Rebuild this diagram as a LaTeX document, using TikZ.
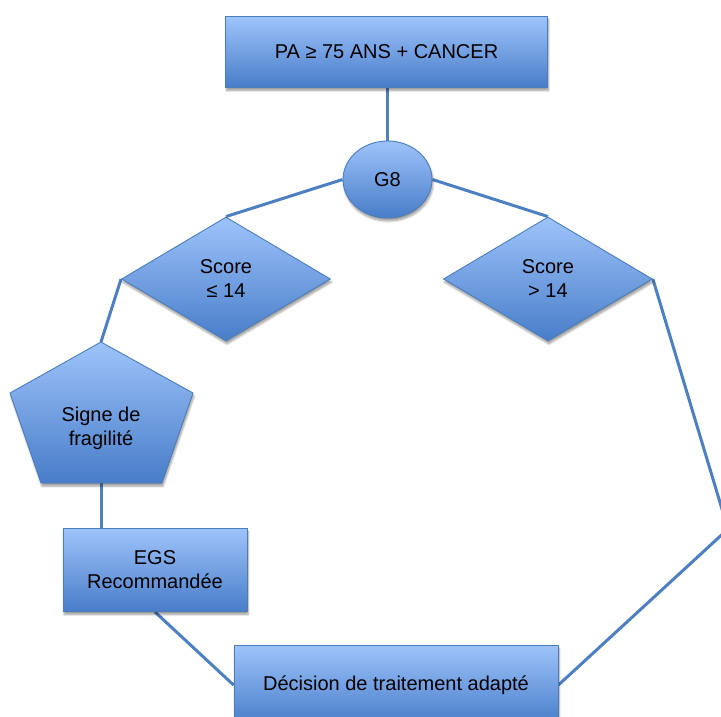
\documentclass[tikz,border=0pt]{standalone}
\usepackage{fontspec}
\setmainfont{Liberation Sans}
\usetikzlibrary{shapes.geometric,shadows.blur,backgrounds,positioning}
\definecolor{boxtop}{RGB}{158,195,250}
\definecolor{boxbottom}{RGB}{72,125,201}
\definecolor{boxline}{RGB}{74,126,187}
\definecolor{linkline}{RGB}{76,128,195}
\tikzset{
  shapefill/.style={top color=boxtop, bottom color=boxbottom,
    draw=boxline, line width=0.9pt,
    blur shadow={shadow xshift=1pt, shadow yshift=-3pt,
      shadow blur steps=6, shadow opacity=40}},
  shapetext/.style={shapefill, inner sep=0pt, align=center,
    font=\fontsize{20}{24}\selectfont},
  link/.style={draw=linkline, line width=3pt}
}
\begin{document}
\begin{tikzpicture}[x=1pt,y=1pt]
  \useasboundingbox (0,0) rectangle (721,-716);

  \node [shapetext,
    minimum width=322pt, minimum height=71pt
  ] (patient) at (386.5,-52) {PA ≥ 75 ANS + CANCER};

  \node [shapetext, ellipse,
    minimum width=89pt, minimum height=77pt
  ] (g8) at (387.5,-179.5) {G8};

  \node [shapetext, diamond,
    minimum width=209pt, minimum height=124pt
  ] (low) at (226,-279) {Score\\≤ 14};

  \node [shapetext, diamond,
    minimum width=209pt, minimum height=124pt,
    right=112pt of low
  ] (high) {Score\\> 14};

  % pentagon drawn as a path
  \path [shapefill] (101,-342) coordinate (fragtop)
    -- (193,-393) -- (162,-483) -- (41,-483) -- (10,-393) -- cycle;
  \coordinate (fragbot) at (101,-483);
  \node [align=center, font=\fontsize{20}{24}\selectfont
  ] (frag) at (101,-428) {Signe de\\fragilité};

  \node [shapetext,
    minimum width=184pt, minimum height=83pt
  ] (egs) at (155,-570) {EGS\\Recommandée};

  \node [shapetext,
    minimum width=324pt, minimum height=80pt
  ] (decision) at (396,-685) {Décision de traitement adapté};

  \coordinate (bend) at (728,-529);

  \begin{scope}[on background layer]
    \draw[link] (patient.south -| g8.north) -- (g8.north);
    \draw[link] (g8.west) -- (low.north);
    \draw[link] (g8.east) -- (high.north);
    \draw[link] (low.west) -- (fragtop);
    \draw[link] (fragbot) -- (fragbot |- egs.north);
    \draw[link] (egs.south) -- (decision.west);
    \draw[link] (decision.east) -- (bend) -- (high.east);
  \end{scope}
\end{tikzpicture}
\end{document}
